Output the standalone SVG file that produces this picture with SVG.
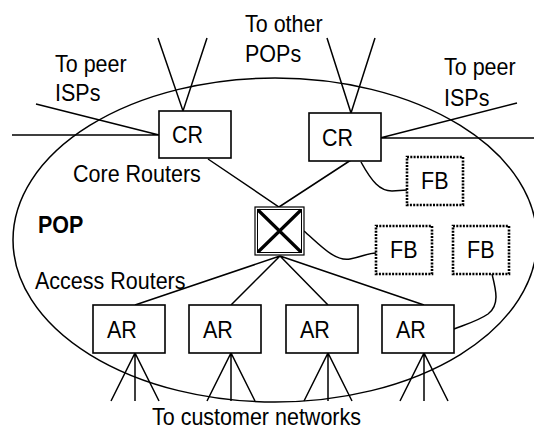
<svg xmlns="http://www.w3.org/2000/svg" width="534" height="432" viewBox="0 0 534 432">
<style>
.ln{fill:none;stroke:#000;stroke-width:1.5}
.box{fill:#fff;stroke:#000;stroke-width:1.6}
.fb{fill:#fff;stroke:#000;stroke-width:2.6;stroke-dasharray:2 1.3}
.t{font-family:"Liberation Sans",Arial,sans-serif;font-size:21.5px;fill:#000}
.b{font-weight:bold}
</style>
<rect width="534" height="432" fill="#fff"/>
<g id="pop">
<ellipse cx="275" cy="240" rx="262" ry="162" class="ln"/>
<text class="t b" transform="translate(38,233) scale(1,1.14)">POP</text>
</g>
<g id="labels">
<text class="t" transform="translate(245,32) scale(1,1.14)">To other</text>
<text class="t" transform="translate(245,62) scale(1,1.14)">POPs</text>
<text class="t" transform="translate(55,72) scale(1,1.14)">To peer</text>
<text class="t" transform="translate(55,101) scale(1,1.14)">ISPs</text>
<text class="t" transform="translate(444,75) scale(1,1.14)">To peer</text>
<text class="t" transform="translate(444,106) scale(1,1.14)">ISPs</text>
<text class="t" transform="translate(73,182) scale(1,1.14)">Core Routers</text>
<text class="t" transform="translate(35,289) scale(1,1.14)">Access Routers</text>
<text class="t" transform="translate(152,425) scale(1,1.12)">To customer networks</text>
</g>
<g id="connectors">
<path class="ln" d="M158,38 L183,111 L207,38"/>
<path class="ln" d="M327,38 L351,113 L375,38"/>
<path class="ln" d="M36,104 L159,135 M12,135 L159,135"/>
<path class="ln" d="M517,103 L380,138 M381,138 L536,138"/>
<path class="ln" d="M208,159 L279,207 L351,160"/>
<path class="ln" d="M361,162 C372,182 380,191 392,191 L407,190"/>
<path class="ln" d="M304,231 C320,245 335,262 350,259 C362,257 368,253 376,253"/>
<path class="ln" d="M492,274 C496,290 500,305 488,314 C478,321 464,325 454,329"/>
<path class="ln" d="M280,256 L135,305 M280,256 L231,305 M280,256 L328,305 M280,256 L424,305"/>
<path class="ln" d="M111,401 L135,353 L159,401 M135,353 L135,401"/>
<path class="ln" d="M207,401 L231,353 L255,401 M231,353 L231,401"/>
<path class="ln" d="M304,401 L328,353 L352,401 M328,353 L328,401"/>
<path class="ln" d="M400,401 L424,353 L448,401 M424,353 L424,401"/>
</g>
<g id="cr1"><rect x="159" y="111" width="72" height="47" class="box"/><text class="t" transform="translate(172,143) scale(1,1.14)">CR</text></g>
<g id="cr2"><rect x="309" y="113" width="72" height="48" class="box"/><text class="t" transform="translate(322,146) scale(1,1.14)">CR</text></g>
<g id="switch">
<rect x="255" y="207" width="49" height="48" fill="#fff" stroke="#000" stroke-width="1.2"/>
<rect x="257.5" y="209.5" width="44" height="43" fill="none" stroke="#000" stroke-width="1"/>
<path d="M258,210 L301,252 M301,210 L258,252" stroke="#000" stroke-width="3.2" fill="none"/>
</g>
<g id="fb1"><rect x="407" y="157" width="56" height="48" class="fb"/><text class="t" transform="translate(421,189) scale(1,1.14)">FB</text></g>
<g id="fb2"><rect x="376" y="226" width="56" height="48" class="fb"/><text class="t" transform="translate(390,258) scale(1,1.14)">FB</text></g>
<g id="fb3"><rect x="453" y="226" width="56" height="48" class="fb"/><text class="t" transform="translate(467,258) scale(1,1.14)">FB</text></g>
<g id="ar1"><rect x="93" y="305" width="72" height="48" class="box"/><text class="t" transform="translate(107,338) scale(1,1.14)">AR</text></g>
<g id="ar2"><rect x="189" y="305" width="72" height="48" class="box"/><text class="t" transform="translate(203,338) scale(1,1.14)">AR</text></g>
<g id="ar3"><rect x="286" y="305" width="72" height="48" class="box"/><text class="t" transform="translate(300,338) scale(1,1.14)">AR</text></g>
<g id="ar4"><rect x="382" y="305" width="72" height="48" class="box"/><text class="t" transform="translate(396,338) scale(1,1.14)">AR</text></g>
</svg>
